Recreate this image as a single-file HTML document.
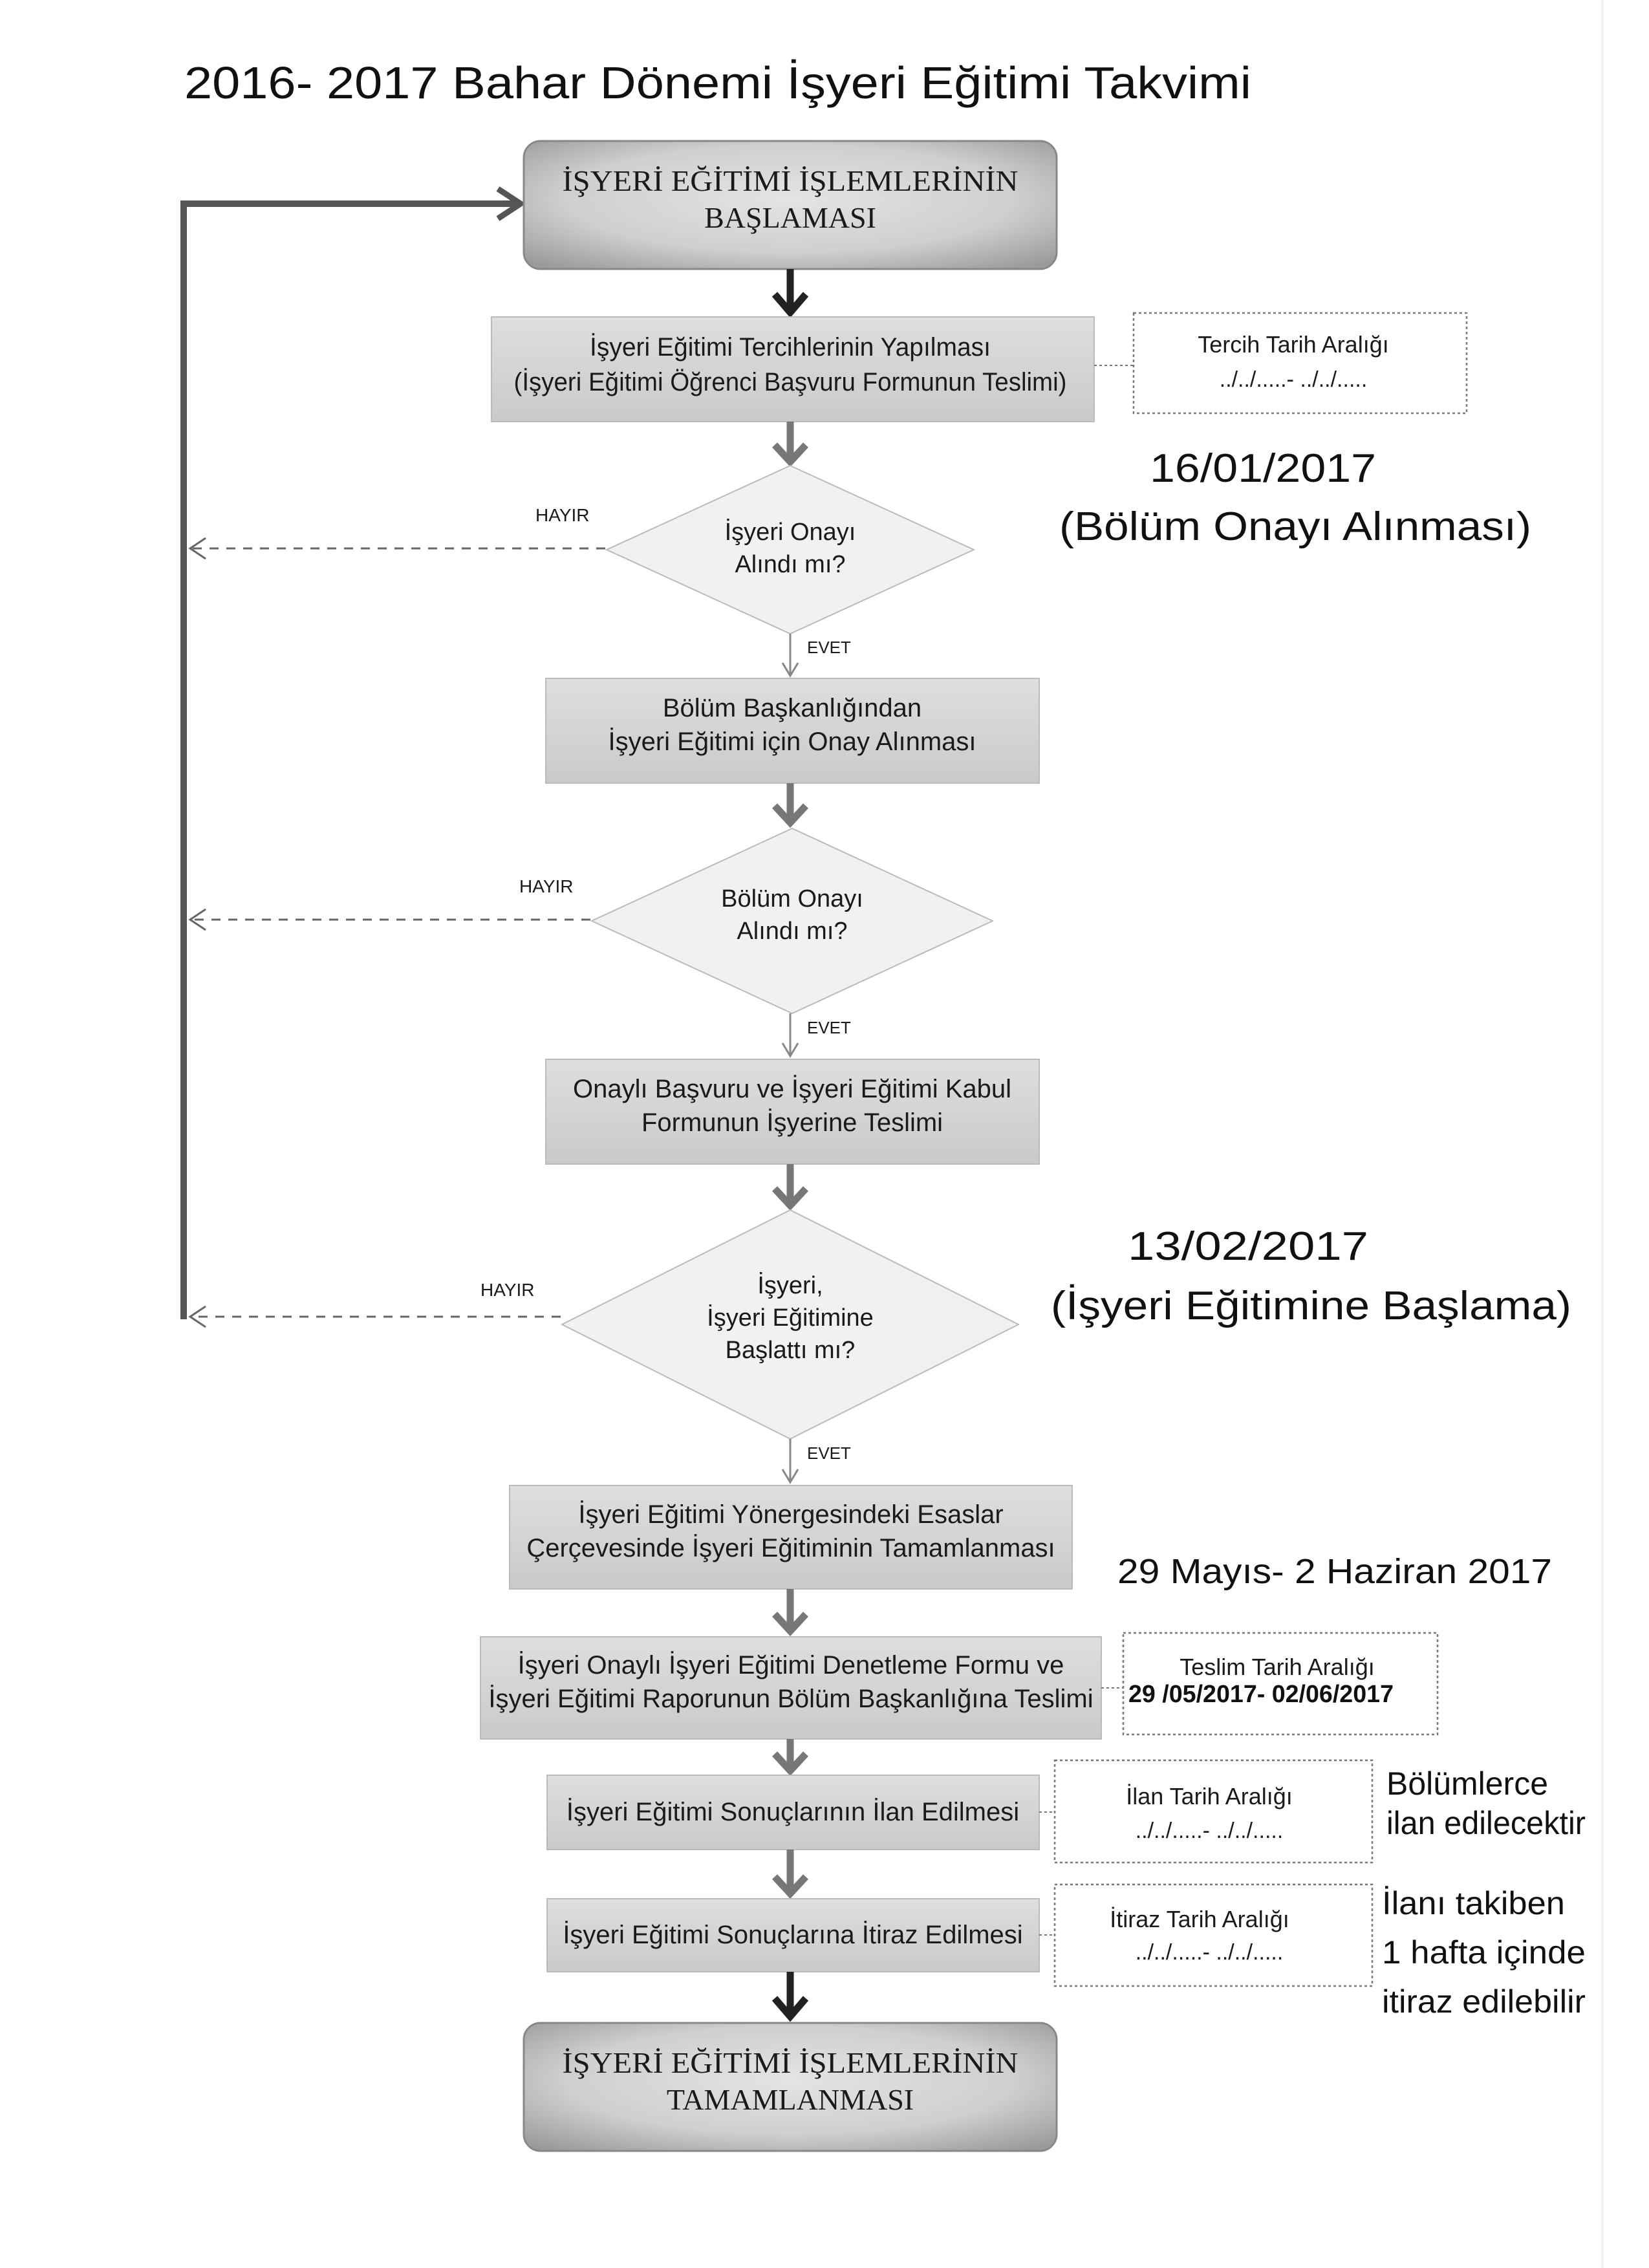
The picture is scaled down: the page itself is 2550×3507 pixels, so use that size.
<!DOCTYPE html>
<html><head><meta charset="utf-8"><style>
html,body{margin:0;padding:0;background:#fff}
svg{display:block}
.s{font-family:"Liberation Sans Narrow","Liberation Sans",sans-serif;fill:#1a1a1a}
.r{font-family:"Liberation Serif",serif;fill:#1a1a1a}
.h{font-family:"Liberation Sans","DejaVu Sans",sans-serif;fill:#111}
</style></head><body>
<svg width="2550" height="3507" viewBox="0 0 2550 3507" xmlns="http://www.w3.org/2000/svg">
<defs>
<radialGradient id="rg" cx="50%" cy="45%" r="70%">
<stop offset="0" stop-color="#e4e4e4"/><stop offset="0.6" stop-color="#cfcfcf"/><stop offset="1" stop-color="#9a9a9a"/>
</radialGradient>
<linearGradient id="bg" x1="0" y1="0" x2="0" y2="1">
<stop offset="0" stop-color="#dedede"/><stop offset="1" stop-color="#cacaca"/>
</linearGradient>
</defs>
<rect width="2550" height="3507" fill="#fff"/>
<line x1="2478" y1="0" x2="2478" y2="3507" stroke="#eee" stroke-width="3"/>

<!-- title -->
<text class="h" x="285" y="152" font-size="70" textLength="1650" lengthAdjust="spacingAndGlyphs">2016- 2017 Bahar Dönemi İşyeri Eğitimi Takvimi</text>

<!-- feedback line -->
<path d="M284 2040 L284 315 L800 315" fill="none" stroke="#555" stroke-width="10"/>
<polyline points="770,292 805,315 770,338" fill="none" stroke="#555" stroke-width="9"/>

<!-- start box -->
<rect x="810" y="218" width="824" height="198" rx="26" fill="url(#rg)" stroke="#888" stroke-width="3"/>
<text class="r" x="1222" y="295" font-size="46" text-anchor="middle" textLength="705" lengthAdjust="spacingAndGlyphs">İŞYERİ EĞİTİMİ İŞLEMLERİNİN</text>
<text class="r" x="1222" y="352" font-size="46" text-anchor="middle">BAŞLAMASI</text>

<!-- arrow dark -->
<line x1="1222" y1="416" x2="1222" y2="480" stroke="#222" stroke-width="11"/>
<polyline points="1198,455 1222,483 1246,455" fill="none" stroke="#222" stroke-width="11"/>

<!-- box2 -->
<rect x="760" y="490" width="932" height="162" fill="url(#bg)" stroke="#bbb" stroke-width="2"/>
<text class="s" x="1222" y="550" font-size="40" text-anchor="middle" textLength="620" lengthAdjust="spacingAndGlyphs">İşyeri Eğitimi Tercihlerinin Yapılması</text>
<text class="s" x="1222" y="604" font-size="40" text-anchor="middle" textLength="855" lengthAdjust="spacingAndGlyphs">(İşyeri Eğitimi Öğrenci Başvuru Formunun Teslimi)</text>
<line x1="1692" y1="565" x2="1753" y2="565" stroke="#777" stroke-width="2" stroke-dasharray="4 4"/>
<rect x="1753" y="484" width="515" height="155" fill="none" stroke="#777" stroke-width="2.5" stroke-dasharray="4 4"/>
<text class="s" x="2000" y="545" font-size="36" text-anchor="middle">Tercih Tarih Aralığı</text>
<text class="s" x="2000" y="598" font-size="34" text-anchor="middle">../../.....- ../../.....</text>

<!-- handwritten 1 -->
<text class="h" x="1778" y="745" font-size="62" textLength="350" lengthAdjust="spacingAndGlyphs">16/01/2017</text>
<text class="h" x="1638" y="835" font-size="62" textLength="730" lengthAdjust="spacingAndGlyphs">(Bölüm Onayı Alınması)</text>

<!-- arrow grey -->
<line x1="1222" y1="652" x2="1222" y2="712" stroke="#777" stroke-width="11"/>
<polyline points="1198,688 1222,714 1246,688" fill="none" stroke="#777" stroke-width="11"/>

<!-- diamond1 -->
<polygon points="1222,720 1506,850 1222,980 938,850" fill="#f1f1f1" stroke="#bbb" stroke-width="2"/>
<text class="s" x="1222" y="835" font-size="38" text-anchor="middle">İşyeri Onayı</text>
<text class="s" x="1222" y="885" font-size="38" text-anchor="middle">Alındı mı?</text>
<text class="s" x="828" y="806" font-size="28" fill="#444">HAYIR</text>
<line x1="936" y1="848" x2="296" y2="848" stroke="#666" stroke-width="3" stroke-dasharray="14 12"/>
<polyline points="318,832 294,848 318,864" fill="none" stroke="#666" stroke-width="3"/>
<line x1="1222" y1="980" x2="1222" y2="1042" stroke="#888" stroke-width="3"/>
<polyline points="1210,1025 1222,1045 1234,1025" fill="none" stroke="#888" stroke-width="3"/>
<text class="s" x="1248" y="1010" font-size="26" fill="#777">EVET</text>

<!-- box3 -->
<rect x="844" y="1049" width="763" height="162" fill="url(#bg)" stroke="#bbb" stroke-width="2"/>
<text class="s" x="1225" y="1108" font-size="40" text-anchor="middle">Bölüm Başkanlığından</text>
<text class="s" x="1225" y="1160" font-size="40" text-anchor="middle">İşyeri Eğitimi için Onay Alınması</text>
<line x1="1222" y1="1211" x2="1222" y2="1270" stroke="#777" stroke-width="11"/>
<polyline points="1198,1246 1222,1272 1246,1246" fill="none" stroke="#777" stroke-width="11"/>

<!-- diamond2 -->
<polygon points="1225,1281 1535,1424 1225,1567 915,1424" fill="#f1f1f1" stroke="#bbb" stroke-width="2"/>
<text class="s" x="1225" y="1402" font-size="38" text-anchor="middle">Bölüm Onayı</text>
<text class="s" x="1225" y="1452" font-size="38" text-anchor="middle">Alındı mı?</text>
<text class="s" x="803" y="1380" font-size="28" fill="#444">HAYIR</text>
<line x1="913" y1="1422" x2="296" y2="1422" stroke="#666" stroke-width="3" stroke-dasharray="14 12"/>
<polyline points="318,1406 294,1422 318,1438" fill="none" stroke="#666" stroke-width="3"/>
<line x1="1222" y1="1567" x2="1222" y2="1630" stroke="#888" stroke-width="3"/>
<polyline points="1210,1613 1222,1633 1234,1613" fill="none" stroke="#888" stroke-width="3"/>
<text class="s" x="1248" y="1598" font-size="26" fill="#777">EVET</text>

<!-- box4 -->
<rect x="844" y="1638" width="763" height="162" fill="url(#bg)" stroke="#bbb" stroke-width="2"/>
<text class="s" x="1225" y="1697" font-size="40" text-anchor="middle">Onaylı Başvuru ve İşyeri Eğitimi Kabul</text>
<text class="s" x="1225" y="1749" font-size="40" text-anchor="middle">Formunun İşyerine Teslimi</text>
<line x1="1222" y1="1800" x2="1222" y2="1862" stroke="#777" stroke-width="11"/>
<polyline points="1198,1838 1222,1864 1246,1838" fill="none" stroke="#777" stroke-width="11"/>

<!-- diamond3 -->
<polygon points="1222,1871 1575,2048 1222,2225 869,2048" fill="#f1f1f1" stroke="#bbb" stroke-width="2"/>
<text class="s" x="1222" y="2000" font-size="38" text-anchor="middle">İşyeri,</text>
<text class="s" x="1222" y="2050" font-size="38" text-anchor="middle">İşyeri Eğitimine</text>
<text class="s" x="1222" y="2100" font-size="38" text-anchor="middle">Başlattı mı?</text>
<text class="s" x="743" y="2004" font-size="28" fill="#444">HAYIR</text>
<line x1="867" y1="2036" x2="296" y2="2036" stroke="#666" stroke-width="3" stroke-dasharray="14 12"/>
<polyline points="318,2020 294,2036 318,2052" fill="none" stroke="#666" stroke-width="3"/>
<line x1="1222" y1="2225" x2="1222" y2="2290" stroke="#888" stroke-width="3"/>
<polyline points="1210,2272 1222,2292 1234,2272" fill="none" stroke="#888" stroke-width="3"/>
<text class="s" x="1248" y="2256" font-size="26" fill="#777">EVET</text>

<!-- handwritten 2 -->
<text class="h" x="1744" y="1948" font-size="62" textLength="372" lengthAdjust="spacingAndGlyphs">13/02/2017</text>
<text class="h" x="1625" y="2040" font-size="62" textLength="805" lengthAdjust="spacingAndGlyphs">(İşyeri Eğitimine Başlama)</text>

<!-- box5 -->
<rect x="788" y="2297" width="870" height="160" fill="url(#bg)" stroke="#bbb" stroke-width="2"/>
<text class="s" x="1223" y="2355" font-size="40" text-anchor="middle">İşyeri Eğitimi Yönergesindeki Esaslar</text>
<text class="s" x="1223" y="2407" font-size="40" text-anchor="middle">Çerçevesinde İşyeri Eğitiminin Tamamlanması</text>
<text class="h" x="1728" y="2448" font-size="54" textLength="672" lengthAdjust="spacingAndGlyphs">29 Mayıs- 2 Haziran 2017</text>
<line x1="1222" y1="2457" x2="1222" y2="2520" stroke="#777" stroke-width="11"/>
<polyline points="1198,2496 1222,2522 1246,2496" fill="none" stroke="#777" stroke-width="11"/>

<!-- box6 -->
<rect x="743" y="2531" width="960" height="158" fill="url(#bg)" stroke="#bbb" stroke-width="2"/>
<text class="s" x="1223" y="2588" font-size="40" text-anchor="middle">İşyeri Onaylı İşyeri Eğitimi Denetleme Formu ve</text>
<text class="s" x="1223" y="2640" font-size="40" text-anchor="middle">İşyeri Eğitimi Raporunun Bölüm Başkanlığına Teslimi</text>
<line x1="1703" y1="2610" x2="1737" y2="2610" stroke="#777" stroke-width="2" stroke-dasharray="4 4"/>
<rect x="1737" y="2525" width="486" height="157" fill="none" stroke="#777" stroke-width="2.5" stroke-dasharray="4 4"/>
<text class="s" x="1975" y="2590" font-size="36" text-anchor="middle">Teslim Tarih Aralığı</text>
<text class="h" x="1745" y="2632" font-size="38" font-weight="bold" textLength="410" lengthAdjust="spacingAndGlyphs">29 /05/2017- 02/06/2017</text>
<line x1="1222" y1="2689" x2="1222" y2="2735" stroke="#777" stroke-width="11"/>
<polyline points="1198,2712 1222,2738 1246,2712" fill="none" stroke="#777" stroke-width="11"/>

<!-- box7 -->
<rect x="846" y="2745" width="761" height="115" fill="url(#bg)" stroke="#bbb" stroke-width="2"/>
<text class="s" x="1226" y="2815" font-size="40" text-anchor="middle">İşyeri Eğitimi Sonuçlarının İlan Edilmesi</text>
<line x1="1607" y1="2802" x2="1631" y2="2802" stroke="#777" stroke-width="2" stroke-dasharray="4 4"/>
<rect x="1631" y="2722" width="491" height="158" fill="none" stroke="#777" stroke-width="2.5" stroke-dasharray="4 4"/>
<text class="s" x="1870" y="2790" font-size="36" text-anchor="middle">İlan Tarih Aralığı</text>
<text class="s" x="1870" y="2842" font-size="34" text-anchor="middle">../../.....- ../../.....</text>
<text class="h" x="2144" y="2775" font-size="50" textLength="250" lengthAdjust="spacingAndGlyphs">Bölümlerce</text>
<text class="h" x="2144" y="2836" font-size="50" textLength="308" lengthAdjust="spacingAndGlyphs">ilan edilecektir</text>
<line x1="1222" y1="2860" x2="1222" y2="2925" stroke="#777" stroke-width="11"/>
<polyline points="1198,2902 1222,2928 1246,2902" fill="none" stroke="#777" stroke-width="11"/>

<!-- box8 -->
<rect x="846" y="2936" width="761" height="113" fill="url(#bg)" stroke="#bbb" stroke-width="2"/>
<text class="s" x="1226" y="3005" font-size="40" text-anchor="middle">İşyeri Eğitimi Sonuçlarına İtiraz Edilmesi</text>
<line x1="1607" y1="2992" x2="1631" y2="2992" stroke="#777" stroke-width="2" stroke-dasharray="4 4"/>
<rect x="1631" y="2914" width="491" height="157" fill="none" stroke="#777" stroke-width="2.5" stroke-dasharray="4 4"/>
<text class="s" x="1855" y="2980" font-size="36" text-anchor="middle">İtiraz Tarih Aralığı</text>
<text class="s" x="1870" y="3030" font-size="34" text-anchor="middle">../../.....- ../../.....</text>
<text class="h" x="2137" y="2960" font-size="50" textLength="283" lengthAdjust="spacingAndGlyphs">İlanı takiben</text>
<text class="h" x="2137" y="3036" font-size="50" textLength="315" lengthAdjust="spacingAndGlyphs">1 hafta içinde</text>
<text class="h" x="2137" y="3112" font-size="50" textLength="315" lengthAdjust="spacingAndGlyphs">itiraz edilebilir</text>

<!-- arrow dark -->
<line x1="1222" y1="3049" x2="1222" y2="3115" stroke="#222" stroke-width="11"/>
<polyline points="1198,3090 1222,3118 1246,3090" fill="none" stroke="#222" stroke-width="11"/>

<!-- end box -->
<rect x="810" y="3128" width="824" height="198" rx="26" fill="url(#rg)" stroke="#888" stroke-width="3"/>
<text class="r" x="1222" y="3205" font-size="46" text-anchor="middle" textLength="705" lengthAdjust="spacingAndGlyphs">İŞYERİ EĞİTİMİ İŞLEMLERİNİN</text>
<text class="r" x="1222" y="3262" font-size="46" text-anchor="middle">TAMAMLANMASI</text>
</svg>
</body></html>
